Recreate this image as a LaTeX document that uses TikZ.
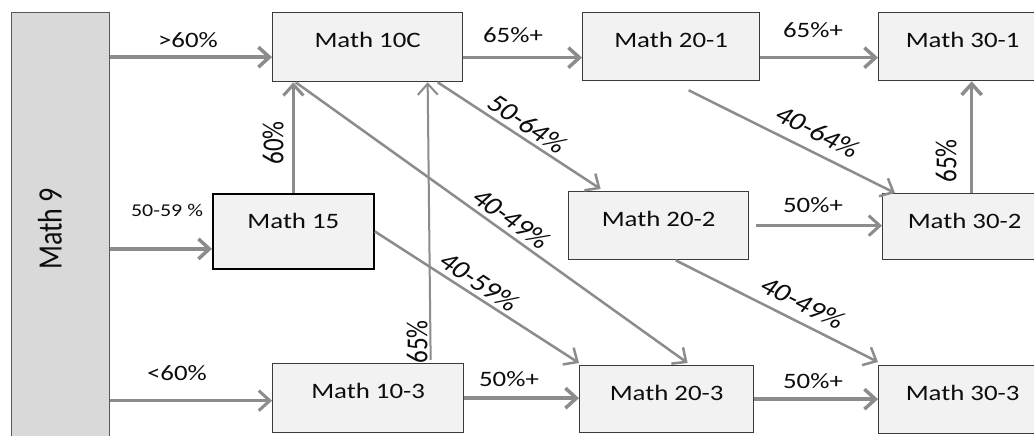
\documentclass[tikz,border=0pt]{standalone}
\usepackage{fontspec}
\setmainfont{Carlito}[FakeStretch=1.22]
\newfontfamily\plainf{Carlito}
\usetikzlibrary{arrows.meta}
\definecolor{linegray}{HTML}{8C8C8C}
\definecolor{boxfill}{HTML}{F2F2F2}
\definecolor{boxline}{HTML}{3A3A3A}
\definecolor{leftfill}{HTML}{D9D9D9}
\definecolor{txt}{HTML}{0D0D0D}
\begin{document}
\begin{tikzpicture}[x=1pt,y=-1pt,
  box/.style={rectangle, draw=boxline, line width=1.3pt, fill=boxfill, inner sep=0pt,
    anchor=north west, text height=35pt, font=\fontsize{22}{26}\selectfont, text=txt},
  conn/.style={draw=linegray, line width=2.5pt, -{Straight Barb[length=11pt,width=20pt]}},
  thickconn/.style={conn, line width=3.5pt},
  lab/.style={font=\fontsize{22}{26}\selectfont, text=txt, inner sep=0pt},
  smalllab/.style={font=\fontsize{18}{22}\selectfont, text=txt, inner sep=0pt},
  rlab/.style={font=\plainf\fontsize{25}{30}\selectfont, text=txt, inner sep=0pt, xscale=1.22},
]
\clip (0,0) rectangle (1034,436);
\fill[white] (0,0) rectangle (1034,436);

% boxes
\node[box, fill=leftfill, draw=boxline!85!white, minimum width=98pt, text depth=405pt] (m9) at (11,12) {};
\node[rlab, font=\plainf\fontsize{28}{32}\selectfont, rotate=90] (m9t) at (50,229) {Math 9};
\node[box, minimum width=190pt, text depth=34pt] (m10c) at (272,12) {Math 10C};
\node[box, minimum width=177pt, text depth=33pt] (m201) at (582,12) {Math 20-1};
\node[box, minimum width=168pt, text depth=33pt] (m301) at (878,12) {Math 30-1};
\node[box, draw=black, line width=1.8pt, minimum width=161pt, text depth=40pt] (m15) at (212,193) {Math 15};
\node[box, minimum width=180pt, text depth=33pt] (m202) at (568,191) {Math 20-2};
\node[box, minimum width=164pt, text depth=31pt] (m302) at (882,193) {Math 30-2};
\node[box, minimum width=191pt, text depth=34pt] (m103) at (272,363) {Math 10-3};
\node[box, minimum width=174pt, text depth=32pt] (m203) at (579,365) {Math 20-3};
\node[box, minimum width=168pt, text depth=33pt] (m303) at (878,365) {Math 30-3};

% helper coordinates
\coordinate (a1) at ([yshift=-10pt]m10c.west);
\coordinate (a2) at ([yshift=-17.5pt]m15.west);
\coordinate (a3) at ([yshift=-2.5pt]m103.west);
\coordinate (a6) at ([yshift=-10.5pt]m10c.east);
\coordinate (a7) at ([yshift=-11pt]m201.east);
\coordinate (a9) at ([xshift=7pt]m302.north);

% connectors
\draw[thickconn] (m9.east |- a1) -- (a1);
\draw[thickconn] (m9.east |- a2) -- (a2);
\draw[conn, line width=3pt] (m9.east |- a3) -- (a3);
\draw[conn, line width=3pt] (m15.north) -- (m15.north |- m10c.south);
\draw[conn, line width=2pt] ([xshift=62.5pt,yshift=3pt]m103.north) -- ([xshift=60pt]m10c.south);
\draw[thickconn] (a6) -- (m201.west |- a6);
\draw[thickconn] (a7) -- (m301.west |- a7);
\draw[conn, line width=3pt] ([xshift=7pt]m202.east) -- (m302.west |- m202.east);
\draw[thickconn] (a9) -- (a9 |- m301.south);
\draw[thickconn] (m103.east) -- (m203.west |- m103.east);
\draw[thickconn] (m203.east) -- (m303.west |- m203.east);
\draw[conn] ([xshift=70pt]m10c.south) -- ([xshift=-58pt,yshift=2pt]m202.north);
\draw[conn] ([xshift=-72pt]m10c.south) -- ([xshift=21pt,yshift=2pt]m203.north);
\draw[conn] (m15.east) -- ([yshift=2pt]m203.north west);
\draw[conn] ([xshift=17.5pt,yshift=-9pt]m201.south) -- ([xshift=13pt]m302.north west);
\draw[conn] ([xshift=17pt]m202.south) -- ([yshift=3pt]m303.north west);

% labels
\node[lab] (l1) at (188,40) {>60\%};
\node[smalllab] (l2) at (167,210) {50-59 \%};
\node[lab] (l3) at (177,373) {<60\%};
\node[rlab, rotate=90] (l4) at (273,143) {60\%};
\node[rlab, rotate=90] (l5) at (417,342) {65\%};
\node[lab] (l6) at (513,35) {65\%+};
\node[lab] (l7) at (813,30) {65\%+};
\node[lab] (l8) at (813,205) {50\%+};
\node[rlab, rotate=90] (l9) at (946,161) {65\%};
\node[lab] (l10) at (509,379) {50\%+};
\node[lab] (l11) at (813,381) {50\%+};
\node[rlab, rotate=-38.9] (l12) at (528,124) {50-64\%};
\node[rlab, rotate=-41.3] (l13) at (512,219) {40-49\%};
\node[rlab, rotate=-38.9] (l14) at (480,282) {40-59\%};
\node[rlab, rotate=-31.5] (l15) at (818,132) {40-64\%};
\node[rlab, rotate=-31.9] (l16) at (803,303) {40-49\%};
\end{tikzpicture}
\end{document}
